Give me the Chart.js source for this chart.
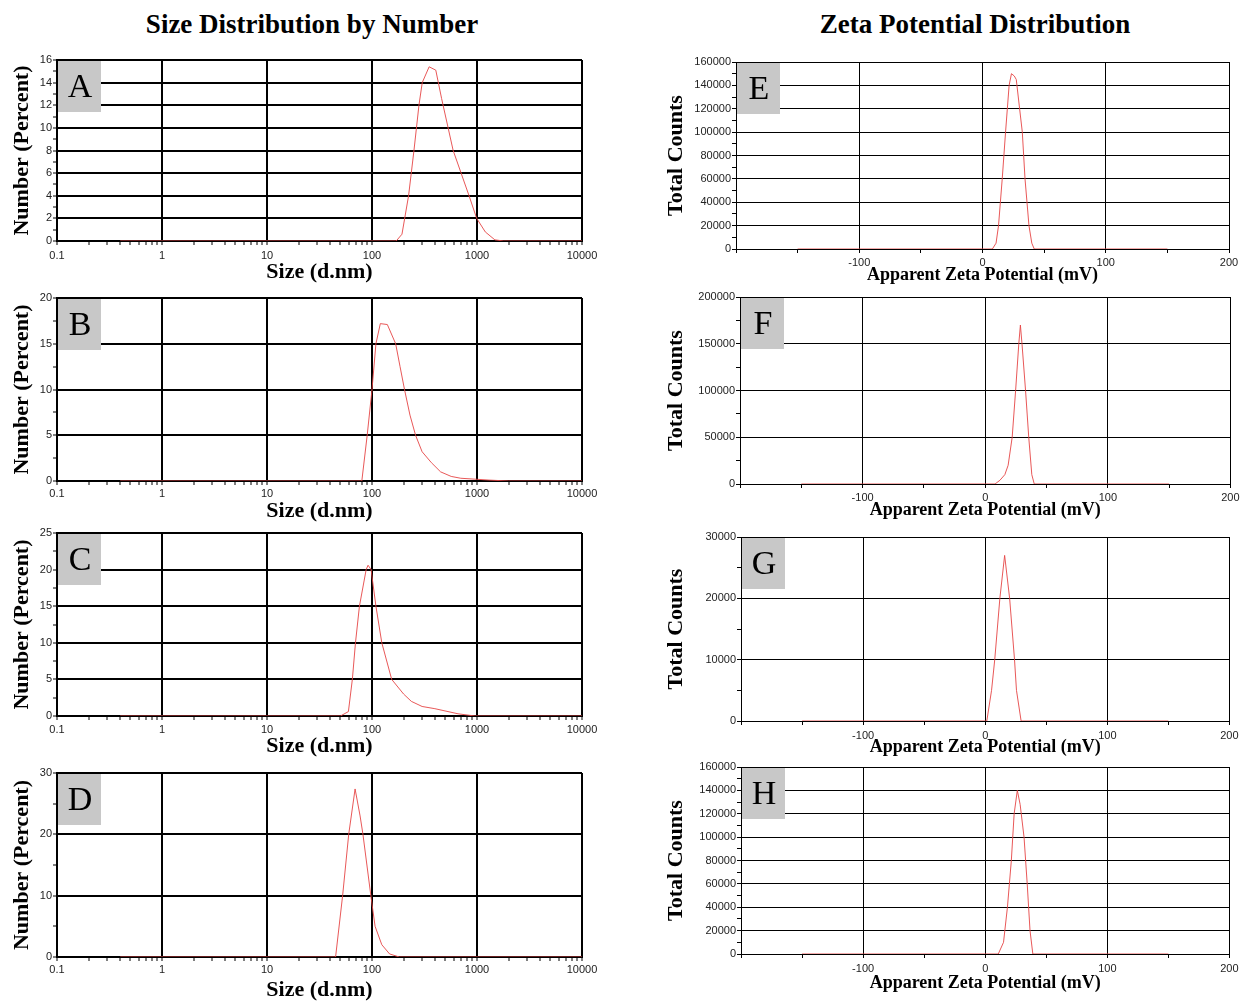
<!DOCTYPE html>
<html>
<head>
<meta charset="utf-8">
<title>Size and Zeta Potential Distributions</title>
<script src="https://cdn.jsdelivr.net/npm/chart.js@4.4.1/dist/chart.umd.min.js"></script>
<style>
  body { margin: 0; background: #fff; width: 1243px; height: 1001px; position: relative; overflow: hidden; }
  .hdr { position: absolute; top: 9px; font: bold 27px 'Liberation Serif', 'Times New Roman', serif; text-align: center; color: #000; }
  canvas { position: absolute; }
</style>
</head>
<body>
<div class="hdr" style="left:0;width:624px">Size Distribution by Number</div>
<div class="hdr" style="left:660px;width:630px">Zeta Potential Distribution</div>
<canvas id="chartA"></canvas>
<canvas id="chartB"></canvas>
<canvas id="chartC"></canvas>
<canvas id="chartD"></canvas>
<canvas id="chartE"></canvas>
<canvas id="chartF"></canvas>
<canvas id="chartG"></canvas>
<canvas id="chartH"></canvas>
<script>
// size distributions (d.nm vs number %)
const sizeA_nm  = [0.4, 170, 193, 223, 251, 280, 301, 350, 405, 460, 593, 840, 993, 1200, 1480, 1800, 10000];
const sizeA_pct = [0, 0, 0.6, 4, 8, 12, 14, 15.4, 15.1, 12.6, 8, 4, 2, 0.8, 0.1, 0, 0];

const sizeB_nm  = [0.4, 80, 90, 100, 109, 120, 140, 168, 185, 204, 230, 260, 300, 368, 450, 568, 700, 955, 1300, 2000, 10000];
const sizeB_pct = [0, 0, 5, 10, 15, 17.2, 17.1, 15, 12.5, 10, 7.2, 5, 3.2, 2, 1, 0.5, 0.3, 0.2, 0.1, 0, 0];

const sizeC_nm  = [0.4, 50, 59.6, 65, 69.6, 75.9, 88, 91.7, 98, 109, 124, 154, 200, 237, 300, 397, 660, 956, 10000];
const sizeC_pct = [0, 0, 0.6, 5, 10, 15, 20, 20.6, 20, 15, 10, 5, 3, 2, 1.3, 1, 0.3, 0, 0];

const sizeD_nm  = [0.4, 45, 52.5, 60, 69, 77, 82, 97.5, 107, 124, 147, 182, 10000];
const sizeD_pct = [0, 0, 10, 20, 27.4, 23, 20, 10, 5, 2, 0.5, 0, 0];

// zeta potential distributions (mV vs total counts)
const zetaE_mV     = [-150, 8, 11, 13, 16, 18.7, 21.6, 23.5, 25.8, 27.4, 32.3, 34.5, 37.7, 40, 42, 150];
const zetaE_counts = [0, 0, 5000, 20000, 60000, 100000, 140000, 150000, 148000, 145000, 100000, 60000, 20000, 5000, 0, 0];

const zetaF_mV     = [-150, 8, 12, 16, 18.7, 22, 24.8, 27.4, 28.7, 30, 32.9, 35.5, 38, 40, 150];
const zetaF_counts = [0, 0, 4000, 10000, 20000, 50000, 100000, 150000, 170000, 150000, 100000, 50000, 10000, 0, 0];

const zetaG_mV     = [-150, 1.3, 5.2, 7.8, 12, 15.9, 20, 24, 25.6, 29.4, 150];
const zetaG_counts = [0, 0, 5000, 10000, 20000, 27000, 20000, 10000, 5000, 0, 0];

const zetaH_mV     = [-150, 10.7, 15, 18.2, 21.4, 23.7, 26.3, 28.6, 31.8, 34.4, 36.7, 39, 150];
const zetaH_counts = [0, 0, 10000, 40000, 80000, 120000, 140000, 128000, 100000, 60000, 20000, 0, 0];

// axis ticks
const sizeXTicks  = [0.1, 1, 10, 100, 1000, 10000];
const sizeXLabels = ['0.1', '1', '10', '100', '1000', '10000'];
const zetaXTicks  = [-200, -100, 0, 100, 200];
const zetaXLabels = ['-100', '0', '100', '200'];

const yTicksA = [0, 2, 4, 6, 8, 10, 12, 14, 16];
const yTicksB = [0, 5, 10, 15, 20];
const yTicksC = [0, 5, 10, 15, 20, 25];
const yTicksD = [0, 10, 20, 30];
const yTicksE = [0, 20000, 40000, 60000, 80000, 100000, 120000, 140000, 160000];
const yTicksF = [0, 50000, 100000, 150000, 200000];
const yTicksG = [0, 10000, 20000, 30000];
const yTicksH = [0, 20000, 40000, 60000, 80000, 100000, 120000, 140000, 160000];

const lineColor = 'rgba(230, 70, 70, 0.9)';

// layout of each panel (plot area in page pixels)
const panels = [
  { id: 'chartA', letter: 'A', kind: 'size', xs: sizeA_nm, ys: sizeA_pct, yTicks: yTicksA, area: { l: 57, t: 60, r: 582, b: 241 }, labelY: 256, titleY: 272 },
  { id: 'chartB', letter: 'B', kind: 'size', xs: sizeB_nm, ys: sizeB_pct, yTicks: yTicksB, area: { l: 57, t: 298, r: 582, b: 481 }, labelY: 494, titleY: 511 },
  { id: 'chartC', letter: 'C', kind: 'size', xs: sizeC_nm, ys: sizeC_pct, yTicks: yTicksC, area: { l: 57, t: 533, r: 582, b: 716 }, labelY: 730, titleY: 746 },
  { id: 'chartD', letter: 'D', kind: 'size', xs: sizeD_nm, ys: sizeD_pct, yTicks: yTicksD, area: { l: 57, t: 773, r: 582, b: 957 }, labelY: 970, titleY: 990 },
  { id: 'chartE', letter: 'E', kind: 'zeta', xs: zetaE_mV, ys: zetaE_counts, yTicks: yTicksE, area: { l: 736, t: 62, r: 1229, b: 249 }, labelY: 263, titleY: 275 },
  { id: 'chartF', letter: 'F', kind: 'zeta', xs: zetaF_mV, ys: zetaF_counts, yTicks: yTicksF, area: { l: 740, t: 297, r: 1232, b: 484 }, labelY: 498, titleY: 510 },
  { id: 'chartG', letter: 'G', kind: 'zeta', xs: zetaG_mV, ys: zetaG_counts, yTicks: yTicksG, area: { l: 741, t: 537, r: 1233, b: 721 }, labelY: 736, titleY: 747 },
  { id: 'chartH', letter: 'H', kind: 'zeta', xs: zetaH_mV, ys: zetaH_counts, yTicks: yTicksH, area: { l: 741, t: 767, r: 1233, b: 954 }, labelY: 969, titleY: 983 }
];

// grey letter box in the top-left corner of each plot
const letterBox = {
  id: 'letterBox',
  afterDatasetsDraw(chart, args, opts) {
    const { ctx, chartArea } = chart;
    ctx.save();
    ctx.fillStyle = '#c8c8c8';
    ctx.fillRect(chartArea.left + 1, chartArea.top + 1, 43, 51);
    ctx.fillStyle = '#000';
    ctx.font = '34px "Liberation Serif", "Times New Roman", serif';
    ctx.textAlign = 'center';
    ctx.textBaseline = 'middle';
    ctx.fillText(opts.letter, chartArea.left + 23, chartArea.top + 28);
    ctx.restore();
  }
};

function withMidpoints(majors) {
  const out = [];
  majors.forEach((v, i) => {
    out.push(v);
    if (i < majors.length - 1) out.push((v + majors[i + 1]) / 2);
  });
  return out;
}

function logTickValues(majors) {
  const out = [];
  majors.forEach((v, i) => {
    out.push(v);
    if (i < majors.length - 1) {
      for (let m = 2; m <= 9; m++) out.push(Number((v * m).toPrecision(6)));
    }
  });
  return out;
}

const tickFont = { family: 'Liberation Sans', size: 11 };

function makePanel(p) {
  const isSize = p.kind === 'size';
  const cLeft = isSize ? 0 : 620;
  const cW = isSize ? 615 : 623;
  const cTop = p.area.t - 12;
  const cH = p.titleY + 16 - cTop;
  const canvas = document.getElementById(p.id);
  canvas.width = cW;
  canvas.height = cH;
  canvas.style.left = cLeft + 'px';
  canvas.style.top = cTop + 'px';
  canvas.style.width = cW + 'px';
  canvas.style.height = cH + 'px';

  const yAxisW = p.area.l - cLeft;
  const xAxisH = cTop + cH - p.area.b;
  const padRight = cLeft + cW - p.area.r;
  const lw = isSize ? 2 : 1;
  const xTitleSize = isSize ? 22 : 18;
  const xMajors = isSize ? sizeXTicks : zetaXTicks;
  const xLabels = isSize ? sizeXLabels : zetaXLabels;
  const yMajors = p.yTicks;

  const points = p.xs.map((x, i) => ({ x: x, y: p.ys[i] }));

  new Chart(canvas.getContext('2d'), {
    type: 'line',
    data: {
      datasets: [{
        data: points,
        borderColor: lineColor,
        borderWidth: 1,
        pointRadius: 0,
        tension: 0,
        fill: false
      }]
    },
    options: {
      responsive: false,
      animation: false,
      events: [],
      layout: { padding: { top: 12, right: padRight, bottom: 0, left: 0 } },
      plugins: {
        legend: { display: false },
        tooltip: { enabled: false },
        letterBox: { letter: p.letter }
      },
      scales: {
        x: {
          type: isSize ? 'logarithmic' : 'linear',
          min: xMajors[0],
          max: xMajors[xMajors.length - 1],
          afterBuildTicks: s => {
            const vals = isSize ? logTickValues(xMajors) : withMidpoints(xMajors);
            s.ticks = vals.map(v => ({ value: v }));
          },
          afterFit: s => { s.height = xAxisH; },
          grid: {
            color: c => (c.tick && xMajors.includes(c.tick.value)) ? '#000' : 'rgba(0,0,0,0)',
            lineWidth: lw,
            tickColor: '#000',
            tickLength: 4,
            tickWidth: 1
          },
          border: { color: '#000', width: lw },
          ticks: {
            autoSkip: false,
            maxRotation: 0,
            minRotation: 0,
            padding: p.labelY - p.area.b - 4 - 6.6,
            color: '#222',
            font: tickFont,
            callback: v => {
              const s = String(v);
              return xLabels.includes(s) ? s : '';
            }
          },
          title: {
            display: true,
            text: isSize ? 'Size (d.nm)' : 'Apparent Zeta Potential (mV)',
            color: '#000',
            font: { family: 'Liberation Serif', weight: 'bold', size: xTitleSize, lineHeight: 1.2 },
            padding: { top: 0, bottom: 16 - xTitleSize * 0.6 }
          }
        },
        y: {
          type: 'linear',
          min: yMajors[0],
          max: yMajors[yMajors.length - 1],
          afterBuildTicks: s => {
            s.ticks = withMidpoints(yMajors).map(v => ({ value: v }));
          },
          afterFit: s => { s.width = yAxisW; },
          grid: {
            color: c => (c.tick && yMajors.includes(c.tick.value)) ? '#000' : 'rgba(0,0,0,0)',
            lineWidth: lw,
            tickColor: '#000',
            tickLength: 4,
            tickWidth: 1
          },
          border: { color: '#000', width: lw },
          ticks: {
            autoSkip: false,
            padding: 1,
            color: '#222',
            font: tickFont,
            callback: v => yMajors.includes(v) ? String(v) : ''
          },
          title: {
            display: true,
            text: isSize ? 'Number (Percent)' : 'Total Counts',
            color: '#000',
            font: { family: 'Liberation Serif', weight: 'bold', size: 22, lineHeight: 1.2 },
            padding: { top: (isSize ? 22 : 56) - 13.2, bottom: 0 }
          }
        }
      }
    },
    plugins: [letterBox]
  });
}

panels.forEach(makePanel);
</script>
</body>
</html>
